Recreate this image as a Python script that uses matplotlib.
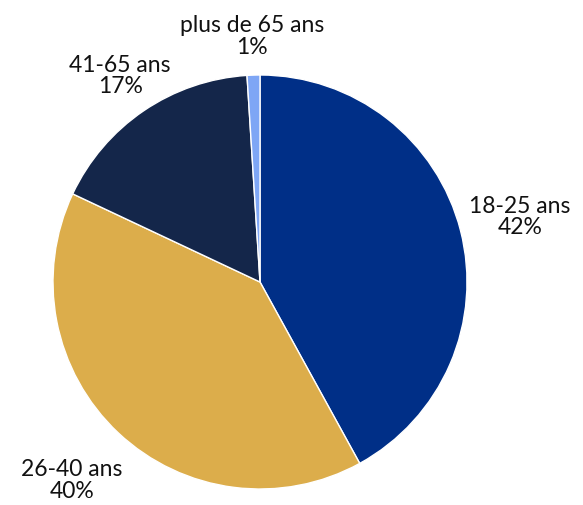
import matplotlib
matplotlib.use("Agg")
import matplotlib.pyplot as plt

categories = ["18-25 ans", "26-40 ans", "41-65 ans", "plus de 65 ans"]
values = [42, 40, 17, 1]
colors = ["#002F87", "#DCAD4B", "#14264A", "#7EA6F5"]
label_pos = [(1.256, 0.314), (-0.908, -0.957), (-0.676, 0.995), (-0.039, 1.184)]

W, H = 583, 505
fig = plt.figure(figsize=(W / 100, H / 100), dpi=100)
cx, cy, r = 260, 282, 207
ax = fig.add_axes([(cx - r) / W, (H - cy - r) / H, 2 * r / W, 2 * r / H])
ax.pie(values, colors=colors, startangle=90, counterclock=False, radius=1,
       wedgeprops=dict(edgecolor="white", linewidth=1))
ax.set_xlim(-1, 1)
ax.set_ylim(-1, 1)
ax.set_aspect("equal")
ax.axis("off")

total = sum(values)
for cat, v, (x, y) in zip(categories, values, label_pos):
    ax.text(x, y, f"{cat}\n{round(100 * v / total)}%", ha="center", va="center",
            fontsize=16.5, family="Lato", color="#111111", linespacing=1.05,
            clip_on=False)

fig.savefig("out.png", dpi=100)
